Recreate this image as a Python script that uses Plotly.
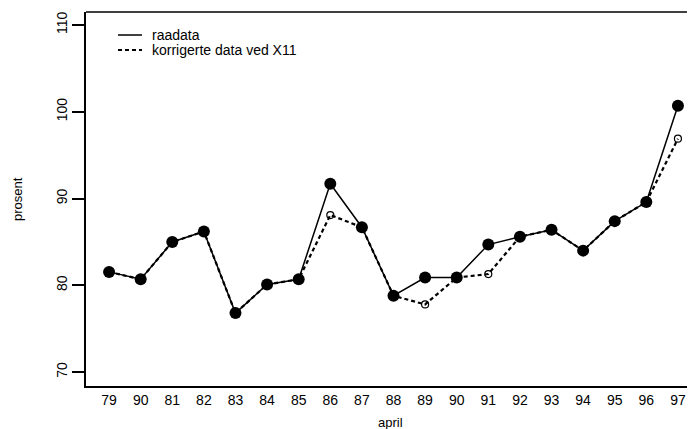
import plotly.graph_objects as go

tick_labels = ["79", "90", "81", "82", "83", "84", "85", "86", "87", "88",
               "89", "90", "91", "92", "93", "94", "95", "96", "97"]
raadata = [81.55, 80.7, 85.0, 86.2, 76.8, 80.1, 80.7, 91.7, 86.7, 78.8,
           80.9, 80.9, 84.7, 85.6, 86.4, 84.0, 87.4, 89.6, 100.7]
korrigert = [81.55, 80.7, 85.0, 86.2, 76.8, 80.1, 80.7, 88.1, 86.7, 78.8,
             77.8, 80.9, 81.3, 85.6, 86.4, 84.0, 87.4, 89.6, 96.9]
legend_names = ["raadata", "korrigerte data ved X11"]

x = list(range(len(tick_labels)))
font = "Liberation Sans, Arial, Helvetica, sans-serif"
DASH = "4px,3px"

OFF = 8  # page body margin
W, H = 695 - OFF, 429 - OFF
L, R, T, B = 86 - OFF, 0, 12 - OFF, 429 - 386
pw, ph = W - L - R, H - T - B

fig = go.Figure()
fig.add_trace(go.Scatter(
    x=x, y=korrigert, mode="lines+markers", showlegend=False,
    line=dict(color="black", width=2.2, dash=DASH),
    marker=dict(symbol="circle-open", size=7, color="black", line=dict(width=1.2)),
))
fig.add_trace(go.Scatter(
    x=x, y=raadata, mode="lines+markers", showlegend=False,
    line=dict(color="black", width=1.5),
    marker=dict(symbol="circle", size=12, color="black"),
))


def px_x(p):  # page pixel -> paper
    return (p - OFF - L) / pw


def px_y(p):
    return 1 - (p - OFF - T) / ph


shapes = [dict(type="line", xref="paper", yref="paper", x0=0, x1=1, y0=1, y1=1,
               line=dict(color="black", width=1.5))]
annotations = []
rows = [35, 50]
styles = [dict(color="black", width=1.5), dict(color="black", width=2, dash=DASH)]
for name, ry, st in zip(legend_names, rows, styles):
    shapes.append(dict(type="line", xref="paper", yref="paper",
                       x0=px_x(118), x1=px_x(142), y0=px_y(ry), y1=px_y(ry), line=st))
    annotations.append(dict(xref="paper", yref="paper", x=px_x(150), y=px_y(ry),
                            xanchor="left", yanchor="middle", showarrow=False,
                            text=name, font=dict(size=14)))
annotations.append(dict(xref="paper", yref="paper", x=0.5, y=0, yshift=-27,
                        xanchor="center", yanchor="top", showarrow=False,
                        text="april", font=dict(size=13)))
annotations.append(dict(xref="paper", yref="paper", x=px_x(17), y=0.5,
                        xanchor="center", yanchor="middle", showarrow=False,
                        text="prosent", textangle=-90, font=dict(size=13)))

fig.update_layout(
    width=W, height=H,
    margin=dict(l=L, r=R, t=T, b=B, pad=0),
    paper_bgcolor="white", plot_bgcolor="white",
    font=dict(family=font, size=14, color="black"),
    showlegend=False,
    shapes=shapes, annotations=annotations,
)
fig.update_xaxes(
    tickmode="array", tickvals=x, ticktext=tick_labels,
    range=[-0.73, 18.54], showgrid=False, zeroline=False,
    showline=True, linecolor="black", linewidth=1.5,
    ticks="", automargin=False, tickfont=dict(size=14),
)
fig.update_yaxes(
    tickvals=[70, 80, 90, 100, 110], range=[68.4, 111.5],
    showgrid=False, zeroline=False,
    showline=True, linecolor="black", linewidth=1.5,
    ticks="outside", ticklen=12, tickcolor="black", tickwidth=1.5, tickangle=-90,
    automargin=False, tickfont=dict(size=14),
)

fig.write_html("out.html")
